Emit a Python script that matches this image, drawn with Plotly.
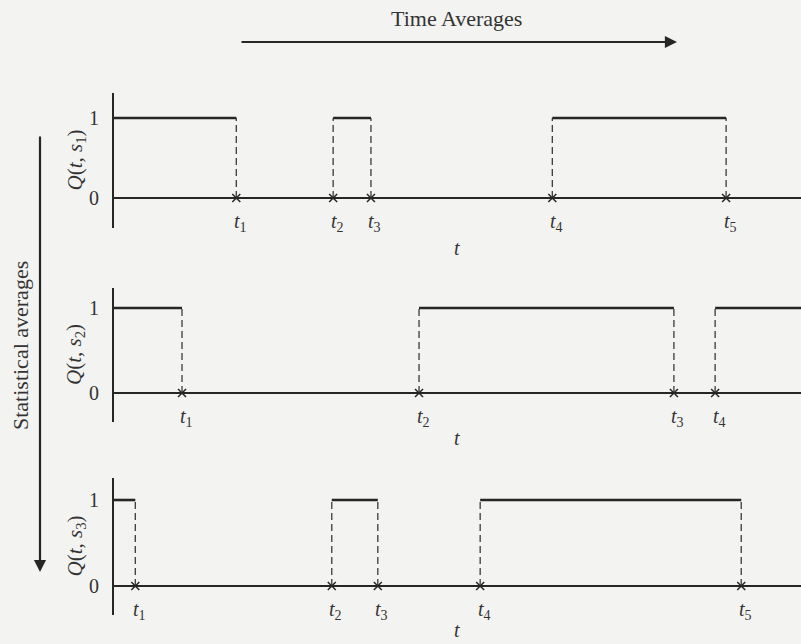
import plotly.graph_objects as go

# Switching times for each sample path s1, s2, s3 (time units, axis spans 0..100)
x_max = 100
t_s1 = [17.8, 31.9, 37.4, 63.8, 89.1]
t_s2 = [9.9, 44.4, 81.5, 87.5]
t_s3 = [3.1, 31.7, 38.4, 53.3, 91.3]
paths = [t_s1, t_s2, t_s3]
path_names = ["1", "2", "3"]
level_labels = ["0", "1"]

W, H = 801, 644
INK = "#262626"
BG = "#f3f3f1"
SERIF = "Liberation Serif, Times New Roman, serif"

# Pixel extents of each panel's vertical axis (top, bottom), y-range, and t-label row
panel_px = [(93, 228), (288, 422), (478, 615)]
panel_rng = [(-0.375, 1.3125), (-0.341, 1.235), (-0.337, 1.256)]
t_label_px = [248, 438, 630]
x_left_px = 114

fig = go.Figure()

layout_axes = {}
for i, (ts, (top, bot), rng) in enumerate(zip(paths, panel_px, panel_rng)):
    n = i + 1
    xa = "x" if n == 1 else f"x{n}"
    ya = "y" if n == 1 else f"y{n}"

    # Horizontal segments where Q = 1: path starts "on", toggles at each t
    edges = [0] + ts + [x_max]
    hx, hy = [], []
    for k in range(0, len(edges) - 1, 2):
        hx += [edges[k], edges[k + 1], None]
        hy += [1, 1, None]

    # Dashed drops at each switching time
    vx, vy = [], []
    for t in ts:
        vx += [t, t, None]
        vy += [0, 1, None]

    fig.add_trace(go.Scatter(x=[0, x_max], y=[0, 0], mode="lines",
                             line=dict(color=INK, width=2),
                             xaxis=xa, yaxis=ya, hoverinfo="skip"))
    fig.add_trace(go.Scatter(x=vx, y=vy, mode="lines",
                             line=dict(color="#3a3a3a", width=1.3, dash="7px,4px"),
                             xaxis=xa, yaxis=ya, hoverinfo="skip"))
    fig.add_trace(go.Scatter(x=hx, y=hy, mode="lines",
                             line=dict(color=INK, width=2.6),
                             xaxis=xa, yaxis=ya, hoverinfo="skip"))
    fig.add_trace(go.Scatter(x=ts, y=[0] * len(ts), mode="markers",
                             marker=dict(symbol="x-thin", size=8,
                                         line=dict(color=INK, width=1.5)),
                             xaxis=xa, yaxis=ya, hoverinfo="skip"))

    y0 = 1 - bot / H
    y1 = 1 - top / H
    layout_axes[f"xaxis{'' if n == 1 else n}"] = dict(
        domain=[x_left_px / W, 1], range=[0, x_max], visible=False,
        anchor=ya, fixedrange=True)
    layout_axes[f"yaxis{'' if n == 1 else n}"] = dict(
        domain=[y0, y1], range=list(rng), anchor=xa,
        showline=True, linecolor=INK, linewidth=2,
        showgrid=False, zeroline=False, ticks="",
        tickvals=[0, 1], ticktext=level_labels,
        tickfont=dict(family=SERIF, size=20, color="#333"),
        ticklabelstandoff=9, fixedrange=True)

    # Switching-time labels t_k below each marker
    for k, t in enumerate(ts):
        fig.add_annotation(x=t, y=0, xref=xa, yref=ya,
                           text=f"<i>t</i><sub>{k + 1}</sub>",
                           showarrow=False, yshift=-24, xshift=4,
                           xanchor="center", yanchor="middle",
                           font=dict(family=SERIF, size=20, color="#333"))

    # Vertical axis title Q(t, s_n)
    fig.add_annotation(x=75 / W, y=(y0 + y1) / 2, xref="paper", yref="paper",
                       text=f"<i>Q</i>(<i>t</i>, <i>s</i><sub>{path_names[i]}</sub>)",
                       textangle=-90, showarrow=False,
                       xanchor="center", yanchor="middle",
                       font=dict(family=SERIF, size=21, color="#333"))

    # Time axis label
    fig.add_annotation(x=457 / W, y=1 - t_label_px[i] / H, xref="paper", yref="paper",
                       text="<i>t</i>", showarrow=False,
                       xanchor="center", yanchor="middle",
                       font=dict(family=SERIF, size=20, color="#333"))

# Direction arrows for time and ensemble averaging
fig.add_annotation(x=677 / W, y=1 - 42 / H, xref="paper", yref="paper",
                   ax=-437, ay=0, text="", showarrow=True,
                   arrowhead=2, arrowsize=1.1, arrowwidth=2.2, arrowcolor=INK)
fig.add_annotation(x=457 / W, y=1 - 19 / H, xref="paper", yref="paper",
                   text="Time Averages", showarrow=False,
                   xanchor="center", yanchor="middle",
                   font=dict(family=SERIF, size=22, color="#333"))
fig.add_annotation(x=40 / W, y=1 - 572 / H, xref="paper", yref="paper",
                   ax=0, ay=-437, text="", showarrow=True,
                   arrowhead=2, arrowsize=1.1, arrowwidth=2.2, arrowcolor=INK)
fig.add_annotation(x=20 / W, y=1 - 346 / H, xref="paper", yref="paper",
                   text="Statistical averages", textangle=-90, showarrow=False,
                   xanchor="center", yanchor="middle",
                   font=dict(family=SERIF, size=22, color="#333"))

fig.update_layout(width=W, height=H, margin=dict(l=0, r=0, t=0, b=0),
                  paper_bgcolor=BG, plot_bgcolor=BG, showlegend=False,
                  **layout_axes)

fig.write_html("out.html", config={"displayModeBar": False})
